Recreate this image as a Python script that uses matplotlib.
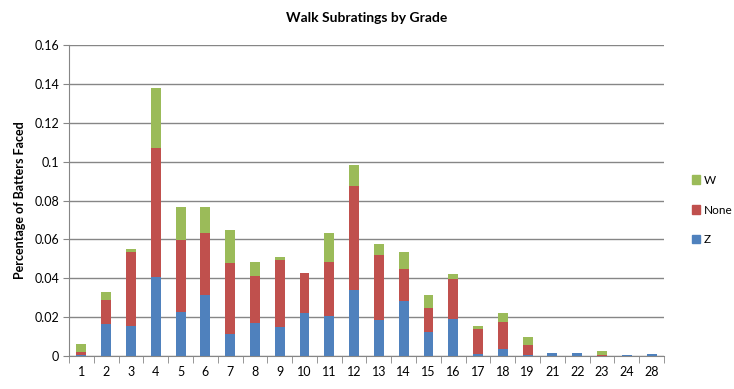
import matplotlib
matplotlib.use("Agg")
import matplotlib.pyplot as plt
import numpy as np
from matplotlib.patches import Patch

# Data
grades = ["1", "2", "3", "4", "5", "6", "7", "8", "9", "10", "11", "12",
          "13", "14", "15", "16", "17", "18", "19", "21", "22", "23", "24", "28"]
z_vals = [0.0003, 0.0165, 0.0156, 0.0406, 0.0226, 0.0312, 0.0115, 0.0170,
          0.0149, 0.0221, 0.0208, 0.0340, 0.0187, 0.0283, 0.0123, 0.0190,
          0.0010, 0.0036, 0.0005, 0.0015, 0.0015, 0.0000, 0.0005, 0.0010]
none_tops = [0.0021, 0.0288, 0.0537, 0.1070, 0.0597, 0.0633, 0.0478, 0.0411,
             0.0494, 0.0427, 0.0483, 0.0875, 0.0520, 0.0448, 0.0247, 0.0396,
             0.0139, 0.0175, 0.0057, 0.0015, 0.0015, 0.0005, 0.0005, 0.0010]
w_tops = [0.0062, 0.0329, 0.0550, 0.1379, 0.0767, 0.0767, 0.0648, 0.0483,
          0.0509, 0.0427, 0.0633, 0.0983, 0.0576, 0.0535, 0.0314, 0.0422,
          0.0154, 0.0221, 0.0098, 0.0015, 0.0015, 0.0026, 0.0005, 0.0010]

z = np.array(z_vals)
none = np.array(none_tops) - z
w = np.array(w_tops) - np.array(none_tops)

plt.rcParams['font.family'] = ['Lato', 'DejaVu Sans']

fig = plt.figure(figsize=(7.34, 3.89), dpi=100)
ax = fig.add_axes([0.094, 0.0848, 0.8106, 0.7992])

blue, red, green = '#4F81BD', '#C0504D', '#9BBB59'
x = np.arange(len(grades))
bw = 0.4
ax.bar(x, z, bw, color=blue, zorder=3)
ax.bar(x, none, bw, bottom=z, color=red, zorder=3)
ax.bar(x, w, bw, bottom=z + none, color=green, zorder=3)

ax.set_xlim(-0.5, len(grades) - 0.5)
ax.set_ylim(0, 0.16)
ax.set_yticks(np.arange(0, 0.161, 0.02))
ax.set_yticklabels(["0", "0.02", "0.04", "0.06", "0.08", "0.1", "0.12", "0.14", "0.16"])
ax.yaxis.grid(True, color='#868686', linewidth=1, zorder=0)

ax.set_xticks(x)
ax.set_xticklabels(grades)
ax.set_xticks(np.arange(-0.5, len(grades), 1), minor=True)
ax.tick_params(axis='x', which='major', length=0, pad=7, labelsize=9)
ax.tick_params(axis='x', which='minor', length=5, color='#868686', direction='out')
ax.tick_params(axis='y', length=4, color='#868686', labelsize=9, pad=3)

for side in ['top', 'right']:
    ax.spines[side].set_visible(False)
for side in ['left', 'bottom']:
    ax.spines[side].set_color('#868686')

ax.set_ylabel('Percentage of Batters Faced', fontsize=9, fontweight='bold', labelpad=6)
ax.set_title('Walk Subratings by Grade', fontsize=10, fontweight='bold', pad=17)

handles = [Patch(color=green, label='W'), Patch(color=red, label='None'),
           Patch(color=blue, label='Z')]
fig.legend(handles=handles, loc='center left', bbox_to_anchor=(0.943, 0.46),
           frameon=False, fontsize=8.5, handlelength=0.7, handleheight=0.7,
           handletextpad=0.3, labelspacing=1.6, borderaxespad=0, borderpad=0)

fig.savefig('out.png', dpi=100)
